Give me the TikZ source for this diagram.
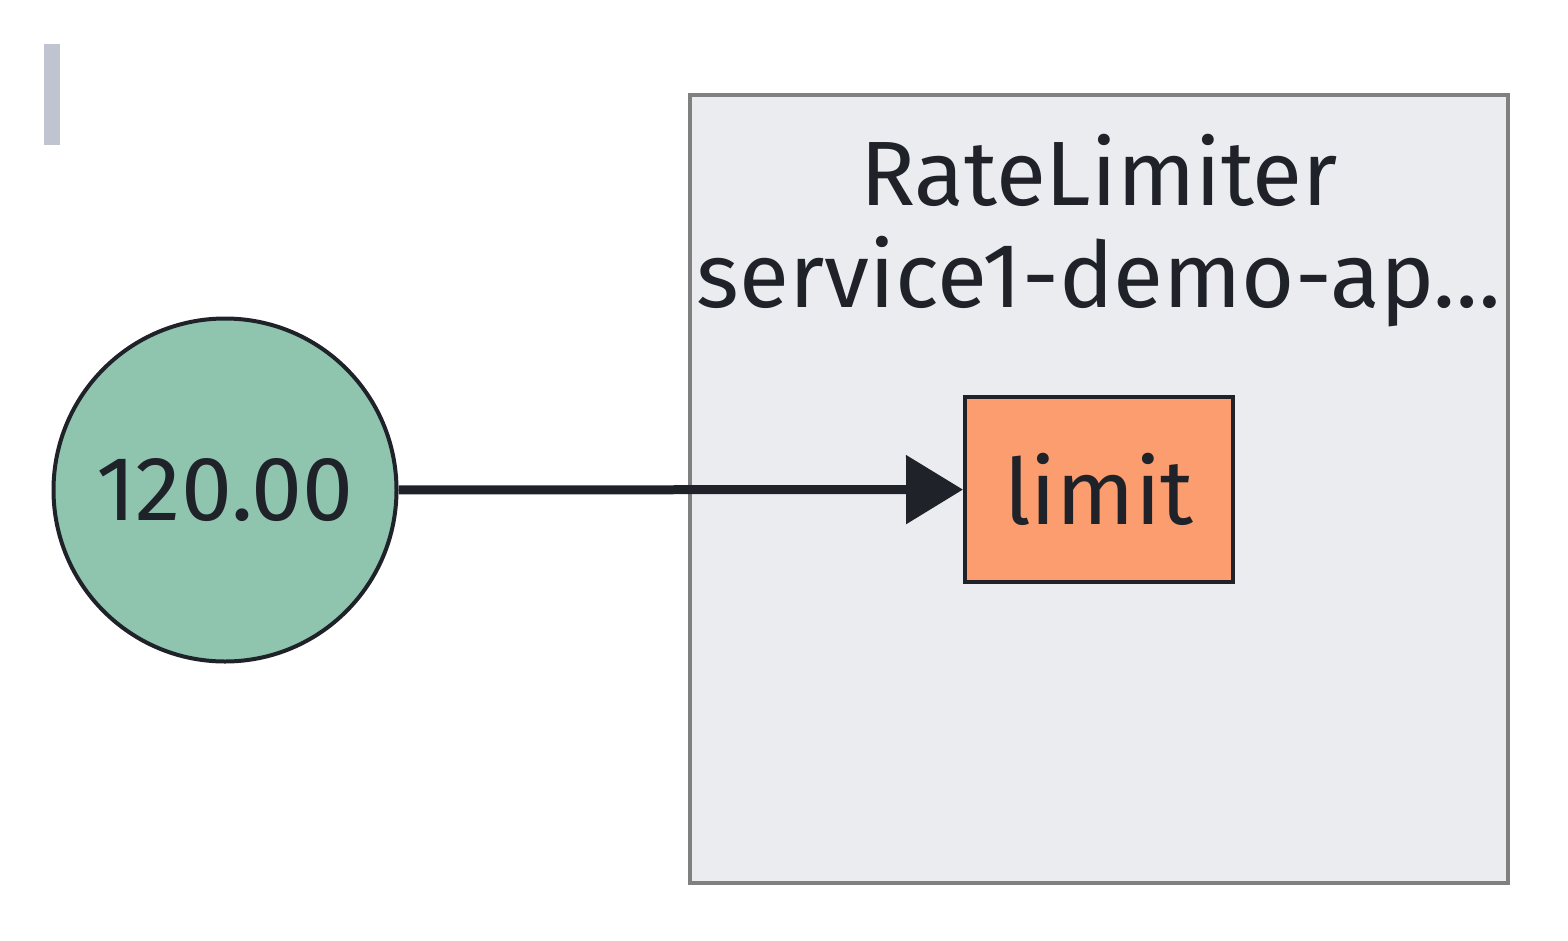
\documentclass[tikz,border=0pt]{standalone}
\usepackage{fontspec}
\setmainfont{Fira Sans}
\usetikzlibrary{arrows.meta}
\definecolor{inkdark}{HTML}{1F2329}
\definecolor{clusterfill}{HTML}{EBECF0}
\definecolor{clusterline}{HTML}{808080}
\definecolor{barcol}{HTML}{C0C4D0}
\definecolor{valuefill}{HTML}{8FC4AE}
\definecolor{limitfill}{HTML}{FB9D6F}
\tikzset{
  bigtext/.style={font=\fontsize{26}{29}\selectfont, text=inkdark},
  valuenode/.style={circle, draw=inkdark, line width=0.04cm, fill=valuefill,
    minimum size=3.43cm, inner sep=0pt, bigtext},
  limitbox/.style={rectangle, draw=inkdark, line width=0.04cm, fill=limitfill,
    minimum width=2.68cm, minimum height=1.85cm, inner sep=0pt, bigtext},
  feed/.style={-{Triangle[length=0.57cm,width=0.67cm]}, line width=0.09cm, draw=inkdark}
}
\begin{document}
\begin{tikzpicture}
        \useasboundingbox (0,0) rectangle (15.68,9.40);
        % marker
            \fill[barcol] (0.44,7.95) rectangle (0.60,8.96);
        % cluster
            \draw[draw=clusterline, fill=clusterfill, line width=0.035cm] (6.90,0.57) rectangle (15.08,8.45);
            \node[bigtext, align=center, anchor=north, inner sep=0pt] (title) at (10.99,8.06)
                {RateLimiter\\service1-demo-ap…};
        % nodes
            \node[valuenode] (value) at (2.25,4.50) {120.00};
            \node[limitbox] (limit) at (10.99,4.505) {limit};
        % edge
            \draw[feed] (value) -- (limit);
\end{tikzpicture}
\end{document}
